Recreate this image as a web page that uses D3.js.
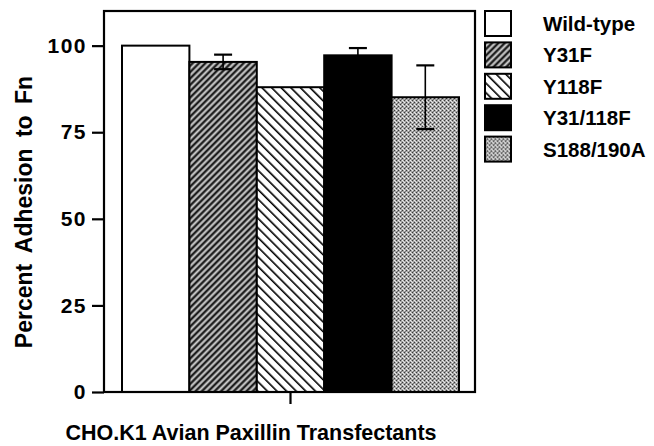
<!DOCTYPE html>
<html>
<head>
<meta charset="utf-8">
<script src="https://cdn.jsdelivr.net/npm/d3@7"></script>
<style>
  body { margin: 0; background: #fff; }
  svg text { font-family: "Liberation Sans", Arial, Helvetica, sans-serif; font-weight: bold; fill: #000; }
</style>
</head>
<body>
<svg id="chart" width="654" height="446"></svg>
<script>
// data
var categories = ['Wild-type', 'Y31F', 'Y118F', 'Y31/118F', 'S188/190A'];
var adhesion = [100, 95.3, 88, 97.2, 85.1];
var errors = [0, 2.1, 0, 2.1, 9.2];
var yTicks = [0, 25, 50, 75, 100];
var fills = ['#fff', 'url(#hatchDark)', 'url(#hatchLight)', '#000', 'url(#stipple)'];

var svg = d3.select('#chart');

var frameL = 104, frameR = 475, frameT = 11, frameB = 392;

var y = d3.scaleLinear()
    .domain([0, 110])
    .range([frameB, frameT]);

var x = d3.scaleBand()
    .domain(categories)
    .range([122, 459])
    .padding(0);

// patterns
var defs = svg.append('defs');

var p1 = defs.append('pattern')
    .attr('id', 'hatchDark')
    .attr('patternUnits', 'userSpaceOnUse')
    .attr('width', 4.5).attr('height', 4.5)
    .attr('patternTransform', 'rotate(45)');
p1.append('rect').attr('width', 4.5).attr('height', 4.5).attr('fill', '#8a8a8a');
p1.append('rect').attr('x', 0).attr('width', 1.8).attr('height', 4.5).attr('fill', '#1e1e1e');
p1.append('rect').attr('x', 2.8).attr('width', 0.9).attr('height', 4.5).attr('fill', '#d8d8d8');

var p2 = defs.append('pattern')
    .attr('id', 'hatchLight')
    .attr('patternUnits', 'userSpaceOnUse')
    .attr('width', 6.8).attr('height', 6.8)
    .attr('patternTransform', 'rotate(-45)');
p2.append('rect').attr('width', 6.8).attr('height', 6.8).attr('fill', '#fff');
p2.append('rect').attr('x', 0).attr('width', 1.6).attr('height', 6.8).attr('fill', '#000');

var p3 = defs.append('pattern')
    .attr('id', 'stipple')
    .attr('patternUnits', 'userSpaceOnUse')
    .attr('width', 4).attr('height', 4);
p3.append('rect').attr('width', 4).attr('height', 4).attr('fill', '#a6a6a6');
[[0, 0, '#3a3a3a'], [2, 2, '#3a3a3a'], [2, 0, '#f0f0f0'], [0, 2, '#f0f0f0'], [1, 3, '#777'], [3, 1, '#e0e0e0']].forEach(function (d) {
    p3.append('rect').attr('x', d[0]).attr('y', d[1]).attr('width', 1).attr('height', 1).attr('fill', d[2]);
});

// bars
svg.selectAll('rect.bar')
    .data(adhesion)
    .enter()
    .append('rect')
    .attr('class', 'bar')
    .attr('x', function (d, i) { return x(categories[i]); })
    .attr('y', function (d) { return y(d); })
    .attr('width', x.bandwidth())
    .attr('height', function (d) { return y(0) - y(d); })
    .attr('fill', function (d, i) { return fills[i]; })
    .attr('stroke', '#000')
    .attr('stroke-width', 2);

// error bars
var errG = svg.append('g');
adhesion.forEach(function (d, i) {
    if (!errors[i]) return;
    var cx = x(categories[i]) + x.bandwidth() / 2;
    var hi = y(d + errors[i]), lo = y(d - errors[i]);
    errG.append('line').attr('x1', cx).attr('x2', cx).attr('y1', hi).attr('y2', lo)
        .attr('stroke', '#000').attr('stroke-width', 1.6);
    [hi, lo].forEach(function (v) {
        errG.append('line').attr('x1', cx - 9).attr('x2', cx + 9).attr('y1', v).attr('y2', v)
            .attr('stroke', '#000').attr('stroke-width', 2.2);
    });
});

// frame
svg.append('rect')
    .attr('x', frameL).attr('y', frameT)
    .attr('width', frameR - frameL).attr('height', frameB - frameT)
    .attr('fill', 'none').attr('stroke', '#000').attr('stroke-width', 2.2);

// y axis
var yAxis = svg.append('g')
    .attr('transform', 'translate(' + frameL + ',0)')
    .call(d3.axisLeft(y).tickValues(yTicks).tickSize(12).tickPadding(5));
yAxis.select('.domain').remove();
yAxis.selectAll('.tick line').attr('stroke', '#000').attr('stroke-width', 2.2);
yAxis.selectAll('.tick text')
    .style('font-size', '21px')
    .style('letter-spacing', '1.5px')
    .attr('fill', '#000');

// x tick at centre of group
var xMid = x(categories[2]) + x.bandwidth() / 2;
svg.append('line')
    .attr('x1', xMid).attr('x2', xMid)
    .attr('y1', frameB).attr('y2', frameB + 12)
    .attr('stroke', '#000').attr('stroke-width', 2.2);

// axis titles
svg.append('text')
    .attr('x', 251).attr('y', 440)
    .attr('text-anchor', 'middle')
    .style('font-size', '21.5px')
    .text('CHO.K1 Avian Paxillin Transfectants');

svg.append('text')
    .attr('transform', 'translate(32,212) rotate(-90)')
    .attr('text-anchor', 'middle')
    .style('font-size', '23px')
    .style('word-spacing', '5px')
    .text('Percent Adhesion to Fn');

// legend
var legend = svg.append('g').attr('transform', 'translate(485,11)');
var rows = legend.selectAll('g')
    .data(categories)
    .enter()
    .append('g')
    .attr('transform', function (d, i) { return 'translate(0,' + (i * 31.4) + ')'; });
rows.append('rect')
    .attr('width', 26).attr('height', 25)
    .attr('fill', function (d, i) { return fills[i]; })
    .attr('stroke', '#000').attr('stroke-width', 2);
rows.append('text')
    .attr('x', 58).attr('y', 20)
    .style('font-size', '20.5px')
    .text(function (d) { return d; });
</script>
</body>
</html>
